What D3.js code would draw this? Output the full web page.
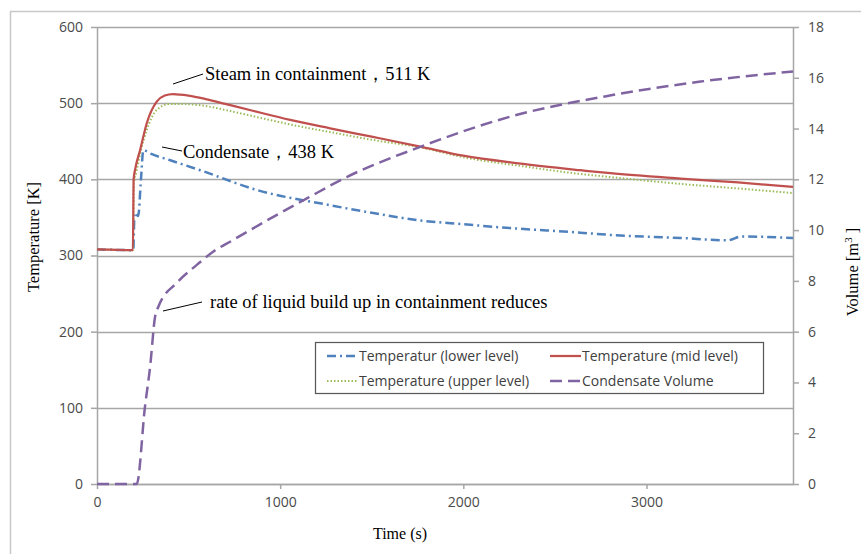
<!DOCTYPE html>
<html>
<head>
<meta charset="utf-8">
<script src="https://cdn.jsdelivr.net/npm/d3@7"></script>
<style>
    body { margin: 0; background: #fff; }
    svg { display: block; }
</style>
</head>
<body>
<svg id="chart" width="861" height="554"></svg>
<script>
// ---- data ----
var tLower = [0, 198, 205, 225, 240, 253, 300, 400, 563, 873, 1273, 1500, 1765, 2000, 2257, 2639, 2803, 3186, 3443, 3520, 3800];
var lowerTemp = [308, 307, 356, 352, 400, 438, 433, 425, 412, 386, 366, 356, 346, 341, 336, 330, 327, 323, 320, 325, 323];

var tMid = [0, 196, 200, 210, 235, 272, 326, 370, 415, 500, 600, 700, 850, 1055, 1273, 1500, 1765, 2000, 2300, 2639, 2803, 3186, 3500, 3800];
var midTemp = [308, 307, 400, 415, 438, 474, 502, 510, 512, 510, 505, 499, 490, 478, 467, 456, 443, 431, 421, 412, 408, 401, 396, 390];

var tUpper = [0, 196, 202, 215, 240, 272, 326, 399, 450, 600, 700, 850, 1055, 1273, 1500, 1765, 2000, 2300, 2639, 2803, 3186, 3500, 3800];
var upperTemp = [308, 307, 395, 410, 438, 465, 491, 499, 499, 496, 491, 483, 472, 462, 452, 442, 429, 418, 407, 403, 394, 388, 382];

var tVol = [0, 217, 262, 290, 317, 335, 435, 545, 634, 743, 945, 1146, 1366, 1765, 2257, 2800, 3295, 3800];
var volume = [0, 0, 3.05, 4.62, 6.59, 6.98, 7.92, 8.63, 9.15, 9.61, 10.45, 11.25, 12.1, 13.28, 14.47, 15.3, 15.85, 16.25];

var tempTicks = [0, 100, 200, 300, 400, 500, 600];
var volTicks = [0, 2, 4, 6, 8, 10, 12, 14, 16, 18];
var timeTicks = [0, 1000, 2000, 3000];

var seriesNames = ["Temperatur (lower level)", "Temperature (mid level)", "Temperature (upper level)", "Condensate Volume"];

// ---- layout ----
var svg = d3.select("#chart");
var margin = { left: 97, top: 27, right: 68, bottom: 70 };
var W = 861 - margin.left - margin.right;   // 696
var H = 554 - margin.top - margin.bottom;   // 457
var grey = "#a6a6a6";
var tickFont = "'Open Sans', 'Liberation Sans', Arial, sans-serif";
var serif = "'Liberation Serif', 'Times New Roman', serif";

// outer chart frame (runs off the canvas on right/bottom like the cropped picture)
svg.append("rect")
    .attr("x", 10.5).attr("y", 11.5)
    .attr("width", 870).attr("height", 560)
    .attr("fill", "none").attr("stroke", "#c8c8c8").attr("stroke-width", 1.5);

var g = svg.append("g").attr("transform", "translate(" + margin.left + "," + margin.top + ")");

var x = d3.scaleLinear().domain([0, 3800]).range([0, W]);
var yT = d3.scaleLinear().domain([0, 600]).range([H, 0]);
var yV = d3.scaleLinear().domain([0, 18]).range([H, 0]);

// gridlines
g.append("g").selectAll("line")
    .data(tempTicks)
    .enter().append("line")
    .attr("x1", 0).attr("x2", W)
    .attr("y1", function (d) { return Math.round(yT(d)) + 0.5; })
    .attr("y2", function (d) { return Math.round(yT(d)) + 0.5; })
    .attr("stroke", grey).attr("stroke-width", 1.5);

// axes
function styleAxis(sel) {
    sel.selectAll(".domain").attr("stroke", grey).attr("stroke-width", 1.5);
    sel.selectAll(".tick line").attr("stroke", grey).attr("stroke-width", 1.5);
    sel.selectAll("text")
        .attr("fill", "#4a4a4a")
        .style("font-family", tickFont)
        .style("font-size", "14px");
}

var xAxis = g.append("g").attr("transform", "translate(0," + H + ")")
    .call(d3.axisBottom(x).tickValues(timeTicks).tickSize(5).tickSizeOuter(0).tickPadding(8).tickFormat(d3.format("d")));
styleAxis(xAxis);

var yAxisL = g.append("g")
    .call(d3.axisLeft(yT).tickValues(tempTicks).tickSize(6).tickSizeOuter(0).tickPadding(8).tickFormat(d3.format("d")));
styleAxis(yAxisL);

var yAxisR = g.append("g").attr("transform", "translate(" + W + ",0)")
    .call(d3.axisRight(yV).tickValues(volTicks).tickSize(6).tickSizeOuter(0).tickPadding(9).tickFormat(d3.format("d")));
styleAxis(yAxisR);

// ---- series ----
function series(ts, vs) {
    return ts.map(function (t, i) { return { t: t, v: vs[i] }; });
}

var lineT = d3.line()
    .x(function (d) { return x(d.t); })
    .y(function (d) { return yT(d.v); })
    .curve(d3.curveMonotoneX);
var lineV = d3.line()
    .x(function (d) { return x(d.t); })
    .y(function (d) { return yV(d.v); })
    .curve(d3.curveMonotoneX);

var styles = [
    { color: "#4f81bd", dash: "9,4,2,4", width: 2.5 },
    { color: "#c0504d", dash: null, width: 2.25 },
    { color: "#9bbb59", dash: "1.5,2", width: 2 },
    { color: "#8064a2", dash: "12,6", width: 2.5 }
];

var plotData = [
    { line: lineT, pts: series(tLower, lowerTemp), s: styles[0] },
    { line: lineT, pts: series(tUpper, upperTemp), s: styles[2] },
    { line: lineT, pts: series(tMid, midTemp), s: styles[1] },
    { line: lineV, pts: series(tVol, volume), s: styles[3] }
];

plotData.forEach(function (p) {
    g.append("path")
        .datum(p.pts)
        .attr("d", p.line)
        .attr("fill", "none")
        .attr("stroke", p.s.color)
        .attr("stroke-width", p.s.width)
        .attr("stroke-dasharray", p.s.dash);
});

// ---- annotations ----
var notes = [
    { text: "Steam in containment，511 K", x1: 173, y1: 84, x2: 203, y2: 74, tx: 205, ty: 80 },
    { text: "Condensate，438 K", x1: 162, y1: 147, x2: 182, y2: 151, tx: 183, ty: 158 },
    { text: "rate of liquid build up in containment reduces", x1: 163, y1: 311, x2: 202, y2: 302, tx: 210, ty: 308 }
];

notes.forEach(function (n) {
    svg.append("line")
        .attr("x1", n.x1).attr("y1", n.y1).attr("x2", n.x2).attr("y2", n.y2)
        .attr("stroke", "#000").attr("stroke-width", 1);
    svg.append("text")
        .attr("x", n.tx).attr("y", n.ty)
        .style("font-family", serif)
        .style("font-size", "18.5px")
        .attr("fill", "#000")
        .text(n.text);
});

// ---- axis titles ----
svg.append("text")
    .attr("transform", "translate(39,237) rotate(-90)")
    .attr("text-anchor", "middle")
    .style("font-family", serif).style("font-size", "16.5px")
    .text("Temperature [K]");

var volTitle = svg.append("text")
    .attr("transform", "translate(858,272) rotate(-90)")
    .attr("text-anchor", "middle")
    .style("font-family", serif).style("font-size", "16.5px");
volTitle.append("tspan").text("Volume [m");
volTitle.append("tspan").attr("dy", -6).style("font-size", "11px").text("3");
volTitle.append("tspan").attr("dy", 6).text(" ]");

svg.append("text")
    .attr("x", 400).attr("y", 539)
    .attr("text-anchor", "middle")
    .style("font-family", serif).style("font-size", "16px")
    .text("Time (s)");

// ---- legend ----
var legend = svg.append("g").attr("transform", "translate(315,342)");
legend.append("rect")
    .attr("x", 0.5).attr("y", 0.5).attr("width", 448).attr("height", 51)
    .attr("fill", "#fff").attr("stroke", "#595959").attr("stroke-width", 1.25);

var legendPos = [
    { x: 12, y: 14 }, { x: 235, y: 14 },
    { x: 12, y: 39 }, { x: 235, y: 39 }
];

seriesNames.forEach(function (name, i) {
    var p = legendPos[i], s = styles[i];
    legend.append("line")
        .attr("x1", p.x).attr("x2", p.x + 31)
        .attr("y1", p.y).attr("y2", p.y)
        .attr("stroke", s.color).attr("stroke-width", s.width)
        .attr("stroke-dasharray", s.dash);
    legend.append("text")
        .attr("x", p.x + 32).attr("y", p.y)
        .attr("dy", "0.35em")
        .attr("fill", "#404040")
        .style("font-family", tickFont).style("font-size", "14px")
        .text(name);
});
</script>
</body>
</html>
